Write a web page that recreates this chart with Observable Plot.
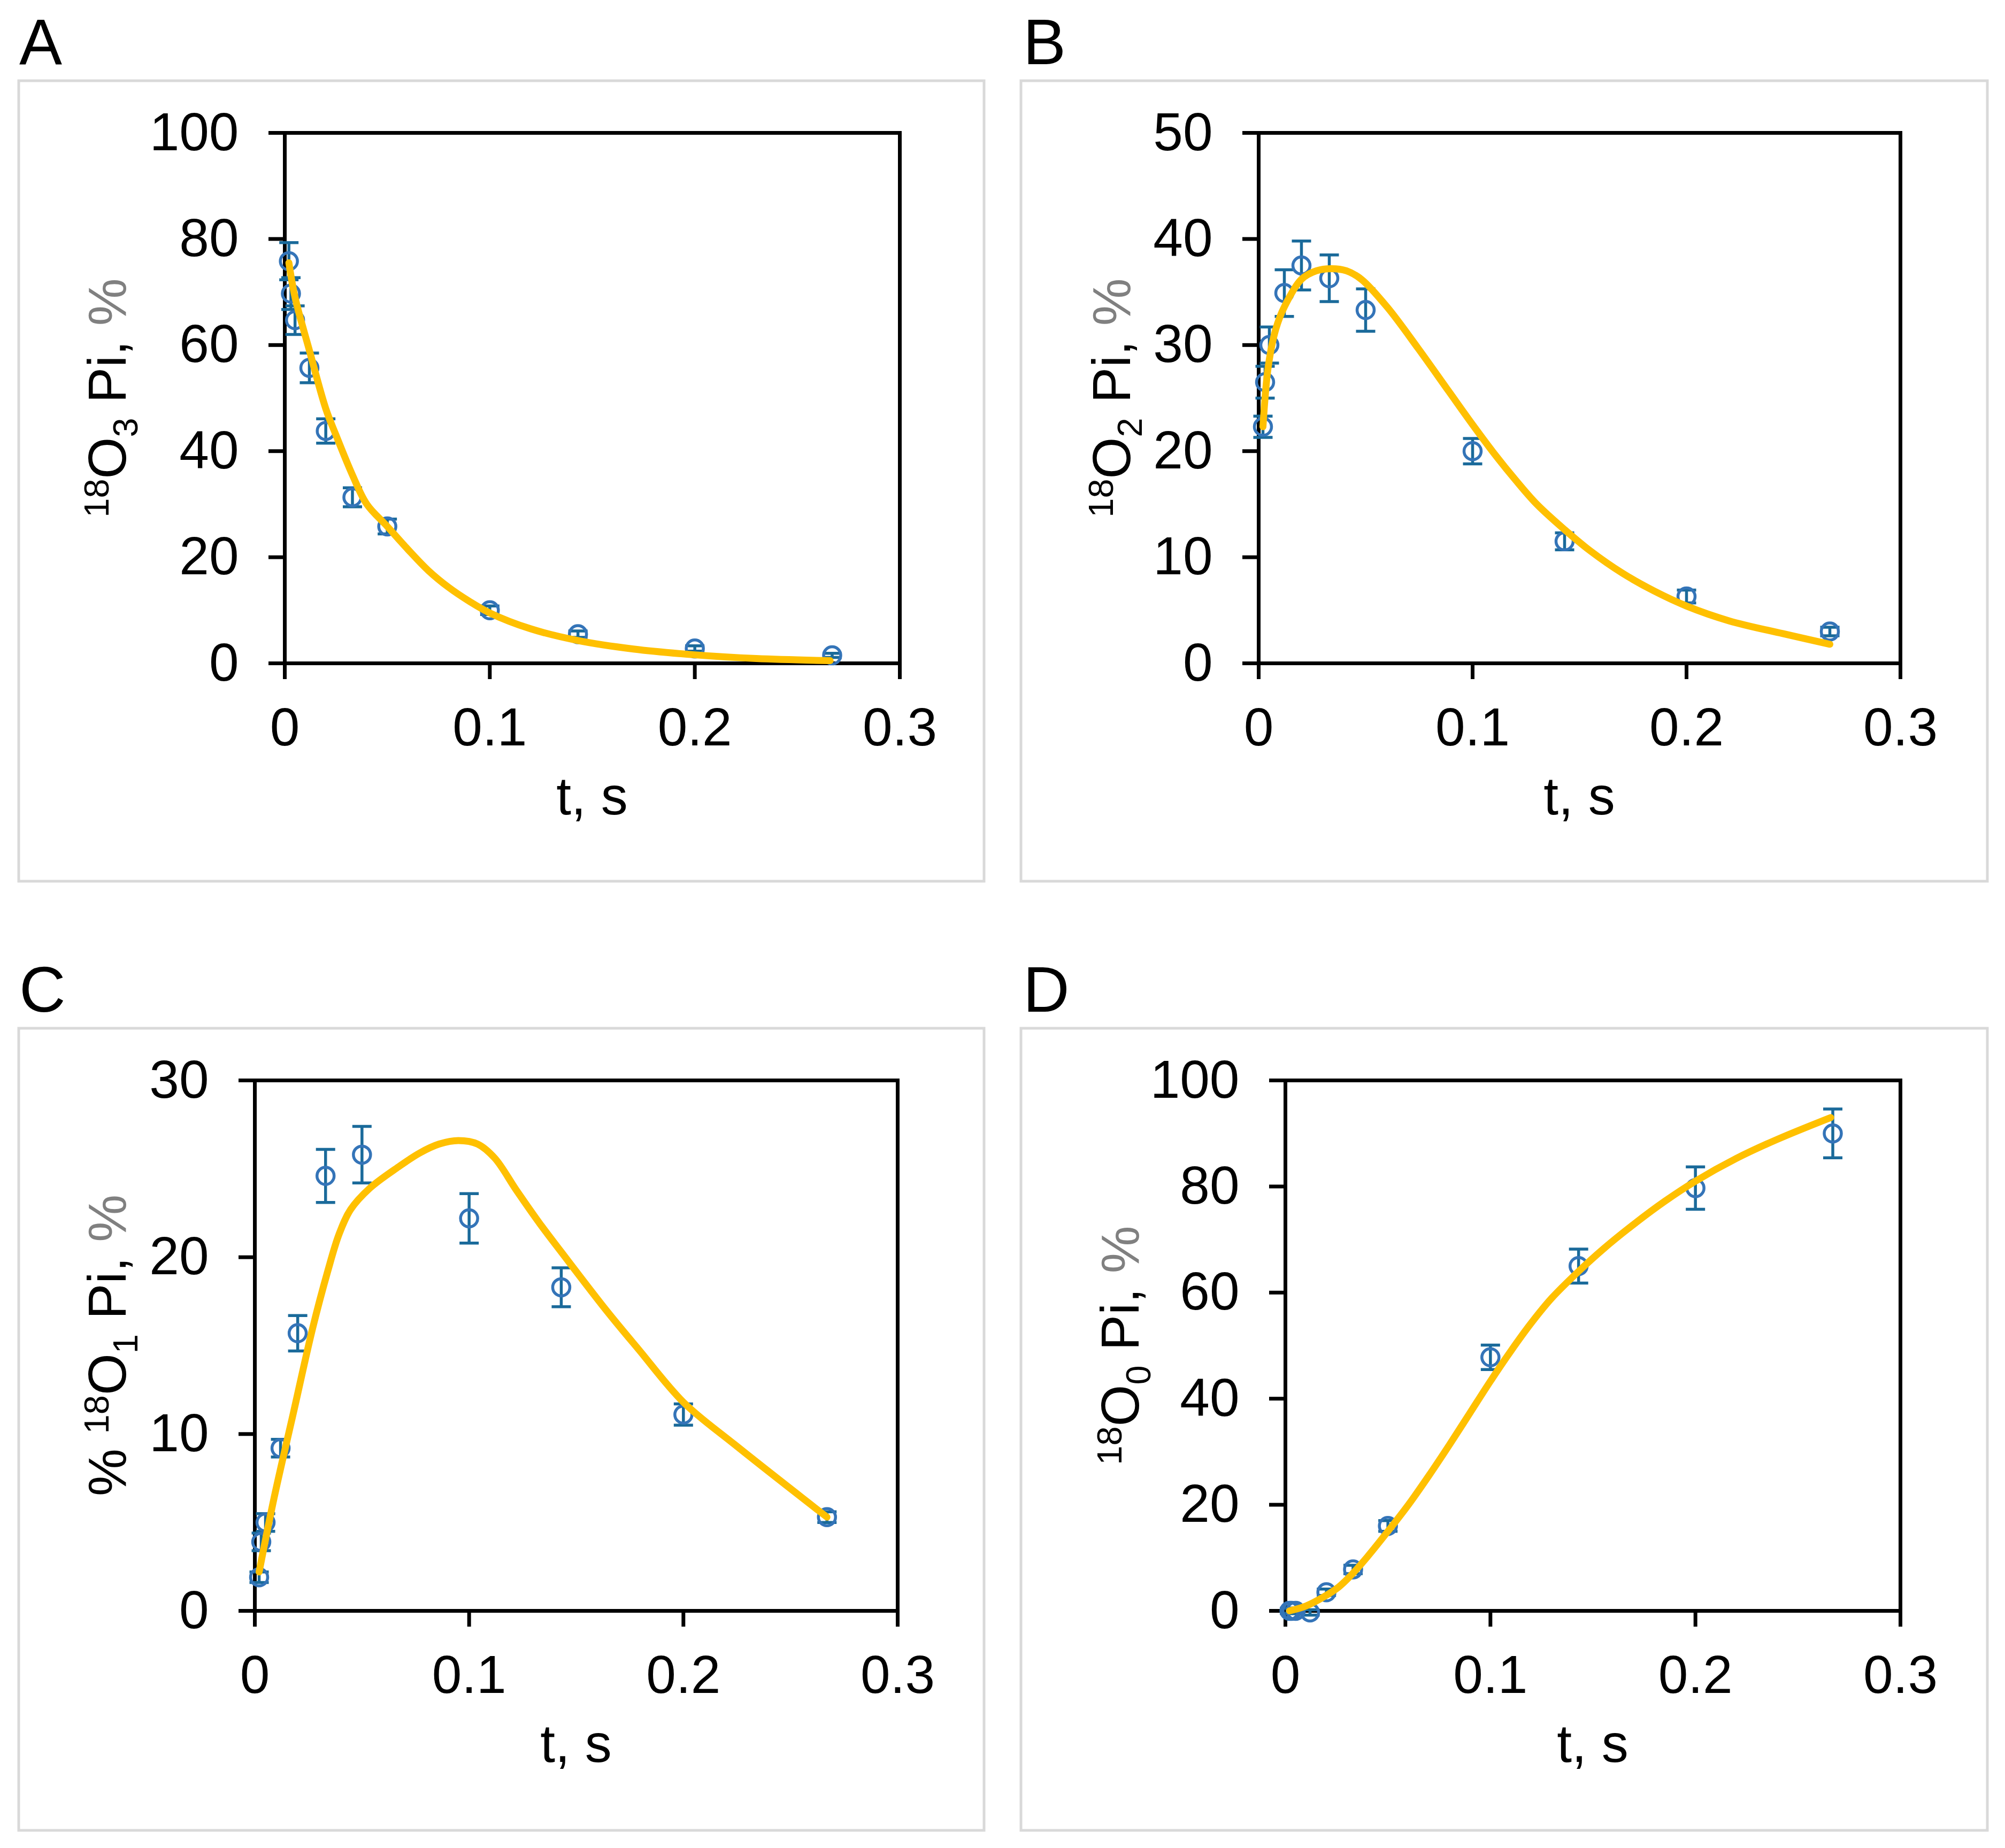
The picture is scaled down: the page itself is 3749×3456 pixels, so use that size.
<!DOCTYPE html>
<html>
<head>
<meta charset="utf-8">
<script src="https://cdn.jsdelivr.net/npm/d3@7"></script>
<script src="https://cdn.jsdelivr.net/npm/@observablehq/plot@0.6"></script>
<style>
  html, body { margin: 0; padding: 0; background: #fff; }
  #root { position: relative; width: 3749px; height: 3456px; background: #fff; overflow: hidden; }
</style>
</head>
<body>
<div id="root"></div>
<script>
// ---------------- DATA ----------------
const times = [0.002, 0.003, 0.005, 0.012, 0.02, 0.033, 0.05, 0.1, 0.143, 0.2, 0.267];

const o3    = [75.8, 69.7, 64.7, 55.7, 43.8, 31.3, 25.8, 10.0, 5.5, 2.8, 1.5];
const o3Err = [3.5, 3.0, 2.7, 2.8, 2.3, 1.8, 1.4, 0.8, 0.6, 0.5, 0.4];

const o2    = [22.3, 26.5, 30.0, 34.9, 37.5, 36.3, 33.3, 20.0, 11.5, 6.3, 3.0];
const o2Err = [1.0, 1.5, 1.7, 2.2, 2.3, 2.2, 2.0, 1.2, 0.8, 0.6, 0.4];

const o1    = [1.9, 3.9, 5.0, 9.2, 15.7, 24.6, 25.8, 22.2, 18.3, 11.1, 5.3];
const o1Err = [0.3, 0.5, 0.5, 0.5, 1.0, 1.5, 1.6, 1.4, 1.1, 0.6, 0.3];

const o0    = [0.0, 0.0, 0.0, -0.3, 3.5, 7.8, 16.0, 47.8, 65.0, 79.7, 90.0];
const o0Err = [0.5, 0.5, 0.5, 0.5, 0.6, 0.8, 1.0, 2.3, 3.2, 4.0, 4.6];

// model fits
const fitA_t = [0.002, 0.005, 0.012, 0.02, 0.025, 0.033, 0.04, 0.05, 0.06, 0.07, 0.08, 0.09, 0.1, 0.12, 0.143, 0.17, 0.2, 0.23, 0.266];
const fitA_v = [75.5, 69.0, 59.0, 48.0, 43.0, 35.5, 30.0, 25.8, 21.5, 17.5, 14.3, 11.7, 9.5, 6.5, 4.3, 2.7, 1.6, 0.9, 0.5];

const fitB_t = [0.002, 0.0045, 0.008, 0.012, 0.02, 0.027, 0.034, 0.041, 0.048, 0.06, 0.0745, 0.089, 0.1, 0.11, 0.12, 0.13, 0.143, 0.155, 0.17, 0.185, 0.2, 0.22, 0.245, 0.267];
const fitB_v = [22.3, 28.0, 31.5, 33.6, 36.2, 37.0, 37.2, 37.0, 36.2, 33.6, 29.7, 25.6, 22.5, 19.8, 17.3, 15.0, 12.6, 10.6, 8.5, 6.8, 5.4, 4.0, 2.8, 1.8];

const fitC_t = [0.002, 0.009, 0.018, 0.027, 0.034, 0.0393, 0.0447, 0.0536, 0.0669, 0.077, 0.086, 0.095, 0.104, 0.112, 0.122, 0.133, 0.143, 0.164, 0.179, 0.2, 0.224, 0.267];
const fitC_v = [2.2, 6.4, 11.2, 16.0, 19.2, 21.3, 22.7, 23.9, 25.1, 25.9, 26.4, 26.6, 26.4, 25.6, 23.8, 21.9, 20.3, 17.0, 14.8, 11.8, 9.4, 5.3];

const fitD_t = [0.002, 0.01, 0.019, 0.026, 0.032, 0.04, 0.05, 0.06, 0.07, 0.08, 0.09, 0.1, 0.11, 0.12, 0.13, 0.143, 0.155, 0.17, 0.185, 0.2, 0.22, 0.24, 0.266];
const fitD_v = [0.0, 0.9, 2.7, 4.5, 6.7, 10.2, 15.0, 20.0, 25.5, 31.3, 37.3, 43.3, 49.0, 54.3, 59.0, 64.0, 68.2, 72.9, 77.2, 81.0, 85.3, 88.9, 93.0];

const xTicks = [0, 0.1, 0.2, 0.3];
const yTicks100 = [0, 20, 40, 60, 80, 100];
const yTicks50 = [0, 10, 20, 30, 40, 50];
const yTicks30 = [0, 10, 20, 30];

const panelKeys = ["A", "B", "C", "D"];
const xLabel = "t, s";
// y-axis label parts: [text, kind]
const yLabelA = [["18", "sup"], ["O", ""], ["3", "sub"], [" Pi, ", ""], ["%", "gray"]];
const yLabelB = [["18", "sup"], ["O", ""], ["2", "sub"], [" Pi, ", ""], ["%", "gray"]];
const yLabelC = [["% ", ""], ["18", "sup"], ["O", ""], ["1", "sub"], [" Pi, ", ""], ["%", "gray"]];
const yLabelD = [["18", "sup"], ["O", ""], ["0", "sub"], [" Pi, ", ""], ["%", "gray"]];

// ---------------- LAYOUT / STYLE ----------------
const FONT = "'Liberation Sans', Arial, Helvetica, sans-serif";
const DOT = "#3474b8";
const ERR = "#1a6a9a";
const FIT = "#FFC000";

const panels = [
  {key: panelKeys[0], vals: o3, errs: o3Err, fitT: fitA_t, fitV: fitA_v, ymax: 100, yTicks: yTicks100, label: yLabelA,
   fx: 35, fy: 151, fw: 1805, fh: 1497, px0: 532, px1: 1682, py0: 248, py1: 1240, lx: 36, ly: 120, ylx: 200},
  {key: panelKeys[1], vals: o2, errs: o2Err, fitT: fitB_t, fitV: fitB_v, ymax: 50, yTicks: yTicks50, label: yLabelB,
   fx: 1909, fy: 151, fw: 1807, fh: 1497, px0: 2353, px1: 3553, py0: 248, py1: 1240, lx: 1913, ly: 120, ylx: 204},
  {key: panelKeys[2], vals: o1, errs: o1Err, fitT: fitC_t, fitV: fitC_v, ymax: 30, yTicks: yTicks30, label: yLabelC,
   fx: 35, fy: 1923, fw: 1805, fh: 1500, px0: 476, px1: 1678, py0: 2020, py1: 3012, lx: 36, ly: 1892, ylx: 200},
  {key: panelKeys[3], vals: o0, errs: o0Err, fitT: fitD_t, fitV: fitD_v, ymax: 100, yTicks: yTicks100, label: yLabelD,
   fx: 1909, fy: 1923, fw: 1807, fh: 1500, px0: 2403, px1: 3553, py0: 2020, py1: 3012, lx: 1913, ly: 1892, ylx: 220}
];

const capSymbol = {
  draw(context, size) {
    const r = Math.sqrt(size / Math.PI);
    context.moveTo(-r, 0);
    context.lineTo(r, 0);
  }
};

const root = document.getElementById("root");
const overlay = d3.select(root).append("svg")
  .attr("width", 3749).attr("height", 3456)
  .style("position", "absolute").style("left", "0px").style("top", "0px");

panels.forEach(p => {
  overlay.append("rect")
    .attr("x", p.fx).attr("y", p.fy).attr("width", p.fw).attr("height", p.fh)
    .attr("fill", "none").attr("stroke", "#d9d9d9").attr("stroke-width", 5);
  overlay.append("text")
    .attr("x", p.lx).attr("y", p.ly)
    .attr("font-family", FONT).attr("font-size", 120).attr("fill", "#000")
    .text(p.key);

  const pts = times.map((t, i) => ({t, v: p.vals[i], e: p.errs[i]}));
  const fit = p.fitT.map((t, i) => ({t, v: p.fitV[i]}));

  const chart = Plot.plot({
    width: p.fw,
    height: p.fh,
    marginLeft: p.px0 - p.fx,
    marginRight: p.fx + p.fw - p.px1,
    marginTop: p.py0 - p.fy,
    marginBottom: p.fy + p.fh - p.py1,
    x: {domain: [0, 0.3]},
    y: {domain: [0, p.ymax]},
    style: {fontFamily: FONT, fontSize: "100px", background: "transparent", overflow: "visible", color: "#000"},
    marks: [
      Plot.frame({stroke: "#000", strokeWidth: 7}),
      Plot.axisX(xTicks, {tickSize: 30, tickPadding: 52, fontSize: 100, stroke: "#000", strokeWidth: 7,
        tickFormat: d => (d === 0 ? "0" : String(d)), label: null}),
      Plot.axisY(p.yTicks, {tickSize: 30, tickPadding: 56, fontSize: 100, stroke: "#000", strokeWidth: 7,
        tickFormat: d => String(d), label: null}),
      Plot.ruleX(pts, {x: "t", y1: d => d.v - d.e, y2: d => d.v + d.e, stroke: ERR, strokeWidth: 5.5}),
      Plot.dot(pts, {x: "t", y: d => d.v + d.e, symbol: capSymbol, r: 18, stroke: ERR, strokeWidth: 5.5}),
      Plot.dot(pts, {x: "t", y: d => d.v - d.e, symbol: capSymbol, r: 18, stroke: ERR, strokeWidth: 5.5}),
      Plot.dot(pts, {x: "t", y: "v", r: 16, stroke: DOT, strokeWidth: 5.5, fill: "none"}),
      Plot.line(fit, {x: "t", y: "v", stroke: FIT, strokeWidth: 13, curve: "catmull-rom"})
    ]
  });
  chart.style.position = "absolute";
  chart.style.left = p.fx + "px";
  chart.style.top = p.fy + "px";
  root.appendChild(chart);

  const svg = d3.select(chart);
  // x-axis title
  svg.append("text")
    .attr("x", (p.px0 + p.px1) / 2 - p.fx)
    .attr("y", p.py1 + 283 - p.fy)
    .attr("text-anchor", "middle")
    .attr("font-family", FONT).attr("font-size", 100).attr("fill", "#000")
    .text(xLabel);

  // y-axis title with super/subscripts
  const yt = svg.append("text")
    .attr("transform", `translate(${p.ylx},${(p.py0 + p.py1) / 2 - p.fy}) rotate(-90)`)
    .attr("text-anchor", "middle")
    .attr("font-family", FONT).attr("fill", "#000");
  let shift = 0;
  p.label.forEach(([txt, kind]) => {
    const target = kind === "sup" ? -32 : kind === "sub" ? 22 : 0;
    const size = (kind === "sup" || kind === "sub") ? 65 : 100;
    const ts = yt.append("tspan")
      .attr("dy", target - shift)
      .attr("font-size", size)
      .style("white-space", "pre")
      .text(txt);
    if (kind === "gray") ts.attr("fill", "#808080");
    shift = target;
  });
});
</script>
</body>
</html>
